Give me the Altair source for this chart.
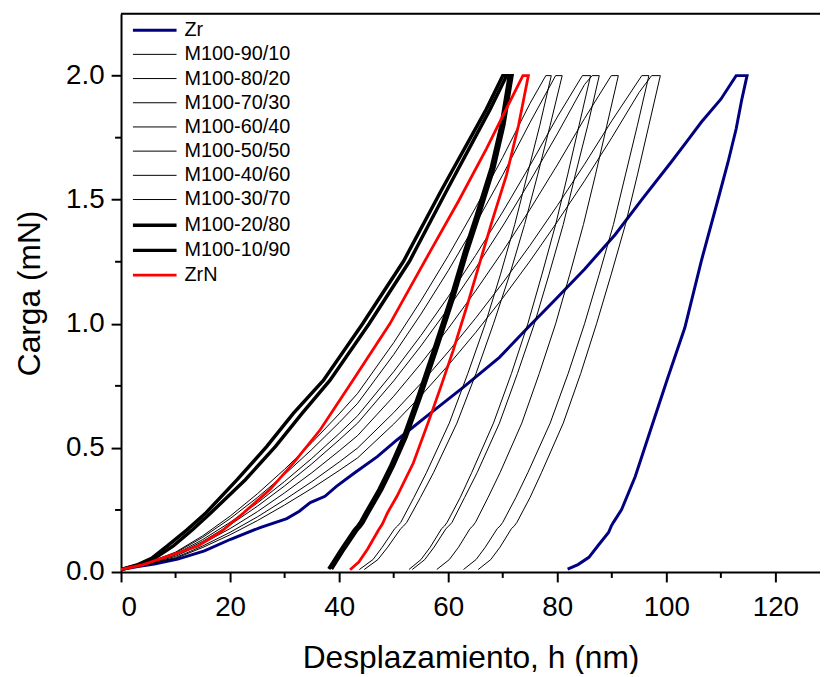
import altair as alt
import pandas as pd

# ---- series names / styles ----
names = ["Zr", "M100-90/10", "M100-80/20", "M100-70/30", "M100-60/40", "M100-50/50",
         "M100-40/60", "M100-30/70", "M100-20/80", "M100-10/90", "ZrN"]
colors = ["#000080", "#000000", "#000000", "#000000", "#000000", "#000000",
          "#000000", "#000000", "#000000", "#000000", "#ff0000"]
widths = [3, 1, 1, 1, 1, 1, 1, 1, 3.5, 3.5, 2.8]

# ---- Zr (navy) ----
zr_x = [0, 3.1, 6.1, 10.4, 15.3, 20.1, 25.5, 30.4, 32.7, 34.7, 37.4, 39.5, 42.8, 47.0, 50.6,
        56.7, 62.8, 69.4, 74.4, 79.7, 85.0, 90.6, 95.5, 100.9, 103.6, 106.4, 110.0, 112.8,
        114.8, 113.8, 112.8, 111.3, 109.7, 106.4, 103.4, 100.3, 97.3, 94.3, 91.8, 90.3, 89.9,
        89.4, 87.6, 85.8, 83.8, 81.9]
zr_y = [0.01, 0.022, 0.032, 0.052, 0.085, 0.132, 0.179, 0.215, 0.245, 0.28, 0.305, 0.345, 0.399,
        0.465, 0.532, 0.639, 0.745, 0.865, 0.98, 1.099, 1.22, 1.359, 1.5, 1.652, 1.73, 1.812,
        1.905, 2.0,
        2.0, 1.9, 1.785, 1.65, 1.519, 1.252, 0.985, 0.785, 0.585, 0.385, 0.252, 0.2, 0.185,
        0.159, 0.11, 0.059, 0.03, 0.012]

# ---- ZrN (red) ----
zrn_x = [0, 4.1, 8.1, 14.1, 18.2, 22.5, 27.3, 31.6, 36.5, 42.5, 49.3, 56.7, 61.9, 67.0, 70.4, 73.7,
         74.7, 72.9, 70.7, 68.2, 66.4, 63.7, 60.9, 58.7, 56.7, 53.6, 50.6, 48.9, 47.9, 47.3,
         45.2, 43.6, 42.0]
zrn_y = [0.01, 0.03, 0.06, 0.105, 0.16, 0.239, 0.332, 0.439, 0.572, 0.772, 1.0, 1.292, 1.495,
         1.705, 1.855, 2.0,
         2.0, 1.8, 1.6, 1.425, 1.292, 1.09, 0.892, 0.75, 0.625, 0.439, 0.305, 0.24, 0.192, 0.172,
         0.092, 0.04, 0.009]

# ---- thick black pair ----
m10_x = [0, 3.1, 5.6, 8.5, 12.1, 15.6, 21.3, 26.7, 31.6, 37.1, 44.3, 51.8, 58.8, 67.0, 70.0,
         71.2, 69.7, 67.9, 65.2, 63.0, 60.4, 57.3, 54.5, 51.8, 49.5, 47.3, 44.9, 43.9, 43.4,
         42.8, 40.4, 38.1]
m10_y = [0.01, 0.03, 0.055, 0.105, 0.17, 0.239, 0.372, 0.505, 0.639, 0.772, 1.0, 1.252, 1.54,
         1.865, 2.0,
         2.0, 1.8, 1.63, 1.44, 1.292, 1.1, 0.892, 0.71, 0.545, 0.43, 0.332, 0.24, 0.2, 0.185,
         0.17, 0.092, 0.012]
m20_x = [0, 3.1, 6.1, 9.6, 13.1, 16.5, 22.8, 28.3, 33.2, 38.3, 45.5, 52.9, 59.8, 67.7, 70.7,
         71.7, 70.2, 68.4, 65.7, 63.5, 60.9, 57.8, 55.0, 52.3, 50.0, 47.8, 45.4, 44.4, 43.9,
         43.3, 40.9, 38.6]
m20_y = [0.01, 0.028, 0.055, 0.105, 0.17, 0.239, 0.372, 0.505, 0.639, 0.772, 1.0, 1.252, 1.54,
         1.865, 2.0,
         2.0, 1.8, 1.63, 1.44, 1.292, 1.1, 0.892, 0.71, 0.545, 0.43, 0.332, 0.24, 0.2, 0.185,
         0.17, 0.092, 0.012]

# ---- thin black curves: loading read at common depths, unloading read at common loads ----
load_h = [0, 5, 10, 15, 20, 25, 30, 35, 40, 43.4, 50, 55, 60, 65, 70, 75, 80, 85, 90, 95]
thin_hmax = [77.9, 79.7, 84.6, 86.4, 89.9, 95.5, 97.3]
thin_load = [
    [0.01, 0.038, 0.08, 0.146, 0.225, 0.315, 0.414, 0.521, 0.637, 0.72, 0.924, 1.093, 1.274, 1.467, 1.671, 1.888, 2.0],
    [0.01, 0.037, 0.077, 0.14, 0.215, 0.30, 0.393, 0.494, 0.602, 0.68, 0.876, 1.039, 1.214, 1.401, 1.60, 1.811, 2.0],
    [0.01, 0.035, 0.072, 0.131, 0.20, 0.278, 0.365, 0.458, 0.558, 0.63, 0.807, 0.953, 1.109, 1.275, 1.451, 1.638, 1.833, 2.0],
    [0.01, 0.034, 0.068, 0.124, 0.19, 0.265, 0.347, 0.436, 0.532, 0.60, 0.77, 0.911, 1.062, 1.223, 1.394, 1.575, 1.765, 1.964, 2.0],
    [0.01, 0.033, 0.063, 0.115, 0.175, 0.243, 0.319, 0.40, 0.488, 0.55, 0.708, 0.84, 0.981, 1.132, 1.292, 1.461, 1.64, 1.827, 2.0],
    [0.01, 0.032, 0.058, 0.105, 0.16, 0.222, 0.291, 0.364, 0.443, 0.50, 0.642, 0.76, 0.887, 1.022, 1.165, 1.316, 1.476, 1.643, 1.818, 2.0],
    [0.01, 0.031, 0.055, 0.099, 0.15, 0.207, 0.27, 0.337, 0.409, 0.46, 0.596, 0.71, 0.833, 0.964, 1.104, 1.253, 1.411, 1.576, 1.75, 1.932, 2.0],
]
unload_p = [2.0, 1.8, 1.6, 1.4, 1.2, 1.0, 0.8, 0.6, 0.4, 0.3, 0.2, 0.185, 0.175, 0.1, 0.05, 0.01]
thin_unload = [
    [78.9, 76.8, 74.5, 72.2, 69.6, 66.8, 63.6, 60.2, 56.0, 53.7, 51.3, 50.7, 50.2, 47.9, 46.2, 43.7],
    [80.9, 78.7, 76.4, 74.0, 71.3, 68.3, 65.1, 61.6, 57.3, 54.9, 52.4, 51.8, 51.3, 48.9, 47.1, 44.6],
    [86.1, 84.0, 81.9, 79.7, 77.2, 74.6, 71.6, 68.3, 64.3, 62.2, 59.8, 59.3, 58.8, 56.7, 55.0, 52.8],
    [87.7, 85.6, 83.3, 81.1, 78.5, 75.8, 72.7, 69.4, 65.3, 63.0, 60.7, 60.1, 59.6, 57.4, 55.7, 53.4],
    [91.2, 89.1, 87.0, 84.8, 82.3, 79.7, 76.7, 73.5, 69.5, 67.3, 65.0, 64.5, 64.0, 61.9, 60.2, 57.9],
    [96.8, 94.7, 92.5, 90.3, 87.7, 85.0, 82.0, 78.7, 74.6, 72.4, 70.0, 69.5, 69.0, 66.8, 65.1, 62.8],
    [98.9, 96.8, 94.7, 92.5, 89.9, 87.2, 84.3, 81.1, 77.1, 75.0, 72.6, 72.1, 71.6, 69.5, 67.8, 65.5],
]
thin_names = names[1:8]

x_ticks = [0, 20, 40, 60, 80, 100, 120]
x_minor = [10, 30, 50, 70, 90, 110]
y_ticks = [0.0, 0.5, 1.0, 1.5, 2.0]
y_minor = [0.25, 0.75, 1.25, 1.75]

# ---- build long table ----
rows = []
def add(name, xs, ys):
    for i, (a, b) in enumerate(zip(xs, ys)):
        rows.append({"s": name, "x": a, "y": b, "i": i})

add("Zr", zr_x, zr_y)
for nm, hm, pl, ux in zip(thin_names, thin_hmax, thin_load, thin_unload):
    xs = load_h[:len(pl) - 1] + [hm] + ux
    ys = pl + unload_p
    add(nm, xs, ys)
add("M100-20/80", m20_x, m20_y)
add("M100-10/90", m10_x, m10_y)
add("ZrN", zrn_x, zrn_y)
df = pd.DataFrame(rows)

W, H = 705, 563
XMAX, YMAX = 128.18, 2.249
FONT = "Liberation Sans, Arial, sans-serif"

xscale = alt.Scale(domain=[0, XMAX], nice=False, zero=False)
yscale = alt.Scale(domain=[0, YMAX], nice=False, zero=False)

xaxis = alt.Axis(values=x_ticks, format="d", labelPadding=12, titlePadding=21)
yaxis = alt.Axis(values=y_ticks, format=".1f", labelPadding=7, titlePadding=19)
XT = "Desplazamiento, h (nm)"
YT = "Carga (mN)"

leg = alt.Legend(title=None, orient="none", legendX=21, legendY=4,
                 symbolType="M-2,0H2", symbolSize=484, labelFontSize=20, labelFont=FONT,
                 labelColor="black", labelOffset=17, rowPadding=2.4, padding=0, labelLimit=400)

lines = alt.Chart(df).mark_line(clip=True).encode(
    x=alt.X("x:Q", scale=xscale, axis=xaxis, title=XT),
    y=alt.Y("y:Q", scale=yscale, axis=yaxis, title=YT),
    color=alt.Color("s:N", scale=alt.Scale(domain=names, range=colors), legend=leg),
    strokeWidth=alt.StrokeWidth("s:N", scale=alt.Scale(type="ordinal", domain=names, range=widths),
                                legend=leg),
    order=alt.Order("i:Q"),
    detail="s:N",
)

xminor = alt.Chart(pd.DataFrame({"x": x_minor})).mark_rule(color="black", strokeWidth=2).encode(
    x=alt.X("x:Q", scale=xscale, axis=xaxis, title=XT),
    y=alt.value(H), y2=alt.value(H + 6))
yminor = alt.Chart(pd.DataFrame({"y": y_minor})).mark_rule(color="black", strokeWidth=2).encode(
    y=alt.Y("y:Q", scale=yscale, axis=yaxis, title=YT),
    x=alt.value(-6), x2=alt.value(0))
topline = alt.Chart(pd.DataFrame({"v": [0]})).mark_rule(color="black", strokeWidth=2).encode(
    x=alt.value(0), x2=alt.value(W), y=alt.value(0))

chart = alt.layer(lines, xminor, yminor, topline).properties(
    width=W, height=H,
    padding={"left": 114, "top": 3, "right": 0, "bottom": 100},
    autosize=alt.AutoSizeParams(type="none"),
).configure_view(stroke=None).configure(background="white").configure_axis(
    labelFontSize=28, titleFontSize=32, tickSize=10, tickWidth=2, domainWidth=2,
    domainColor="black", tickColor="black", labelColor="black", titleColor="black",
    labelFont=FONT, titleFont=FONT, titleFontWeight="normal", grid=False,
)

chart.save("out.html", embed_options={"renderer": "svg", "actions": False})
